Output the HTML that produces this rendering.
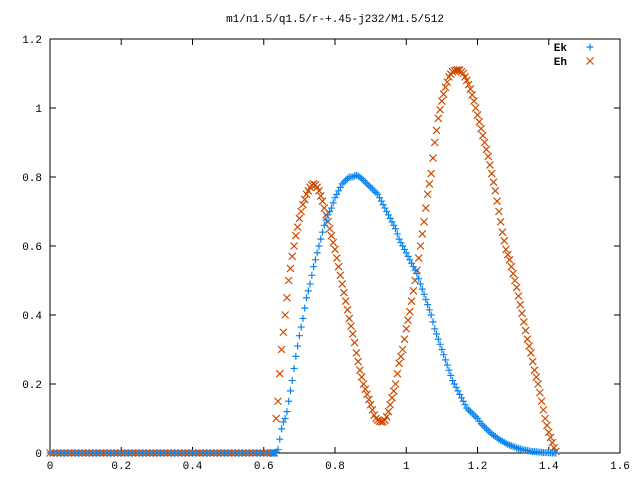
<!DOCTYPE html>
<html><head><meta charset="utf-8"><style>
body{margin:0;background:#fff}
svg{display:block}
text{font-family:"Liberation Mono",monospace;font-size:11px;fill:#000}
</style></head><body>
<svg id="chart" width="640" height="480" xmlns="http://www.w3.org/2000/svg">
<rect width="640" height="480" fill="#fff"/>
<text x="335" y="22" text-anchor="middle">m1/n1.5/q1.5/r-+.45-j232/M1.5/512</text>
<g id="axes"></g>
<g id="marks"></g>
<g>
<text x="567" y="51" text-anchor="end" font-weight="bold">Ek</text>
<text x="567" y="65" text-anchor="end" font-weight="bold">Eh</text>
</g>
</svg>
<script>
const zeroX=[0,0.01,0.02,0.03,0.04,0.05,0.06,0.07,0.08,0.09,0.1,0.11,0.12,0.13,0.14,0.15,0.16,0.17,0.18,0.19,0.2,0.21,0.22,0.23,0.24,0.25,0.26,0.27,0.28,0.29,0.3,0.31,0.32,0.33,0.34,0.35,0.36,0.37,0.38,0.39,0.4,0.41,0.42,0.43,0.44,0.45,0.46,0.47,0.48,0.49,0.5,0.51,0.52,0.53,0.54,0.55,0.56,0.57,0.58,0.59,0.6,0.61];
const zeroEk=[0,0,0,0,0,0,0,0,0,0,0,0,0,0,0,0,0,0,0,0,0,0,0,0,0,0,0,0,0,0,0,0,0,0,0,0,0,0,0,0,0,0,0,0,0,0,0,0,0,0,0,0,0,0,0,0,0,0,0,0,0,0];
const zeroEh=[0,0,0,0,0,0,0,0,0,0,0,0,0,0,0,0,0,0,0,0,0,0,0,0,0,0,0,0,0,0,0,0,0,0,0,0,0,0,0,0,0,0,0,0,0,0,0,0,0,0,0,0,0,0,0,0,0,0,0,0,0,0];
const xs=[0.62,0.625,0.63,0.635,0.64,0.645,0.65,0.655,0.66,0.665,0.67,0.675,0.68,0.685,0.69,0.695,0.7,0.705,0.71,0.715,0.72,0.725,0.73,0.735,0.74,0.745,0.75,0.755,0.76,0.765,0.77,0.775,0.78,0.785,0.79,0.795,0.8,0.805,0.81,0.815,0.82,0.825,0.83,0.835,0.84,0.845,0.85,0.855,0.86,0.865,0.87,0.875,0.88,0.885,0.89,0.895,0.9,0.905,0.91,0.915,0.92,0.925,0.93,0.935,0.94,0.945,0.95,0.955,0.96,0.965,0.97,0.975,0.98,0.985,0.99,0.995,1,1.005,1.01,1.015,1.02,1.025,1.03,1.035,1.04,1.045,1.05,1.055,1.06,1.065,1.07,1.075,1.08,1.085,1.09,1.095,1.1,1.105,1.11,1.115,1.12,1.125,1.13,1.135,1.14,1.145,1.15,1.155,1.16,1.165,1.17,1.175,1.18,1.185,1.19,1.195,1.2,1.205,1.21,1.215,1.22,1.225,1.23,1.235,1.24,1.245,1.25,1.255,1.26,1.265,1.27,1.275,1.28,1.285,1.29,1.295,1.3,1.305,1.31,1.315,1.32,1.325,1.33,1.335,1.34,1.345,1.35,1.355,1.36,1.365,1.37,1.375,1.38,1.385,1.39,1.395,1.4,1.405,1.41,1.415,1.42];
const ek=[0,0,0,0.003,0.01,0.04,0.07,0.09,0.10,0.12,0.15,0.18,0.21,0.245,0.28,0.31,0.34,0.365,0.39,0.42,0.45,0.47,0.49,0.515,0.54,0.56,0.58,0.60,0.62,0.64,0.66,0.675,0.69,0.70,0.71,0.725,0.74,0.75,0.76,0.77,0.78,0.785,0.79,0.795,0.80,0.80,0.80,0.803,0.805,0.803,0.80,0.795,0.79,0.785,0.78,0.775,0.77,0.765,0.76,0.755,0.75,0.74,0.73,0.72,0.71,0.70,0.69,0.68,0.67,0.66,0.65,0.635,0.62,0.61,0.60,0.59,0.58,0.57,0.56,0.55,0.54,0.53,0.52,0.505,0.49,0.475,0.46,0.445,0.43,0.415,0.40,0.38,0.36,0.345,0.33,0.315,0.30,0.285,0.27,0.255,0.24,0.225,0.21,0.20,0.19,0.18,0.17,0.16,0.15,0.14,0.13,0.125,0.12,0.115,0.11,0.105,0.10,0.092,0.085,0.08,0.075,0.07,0.065,0.06,0.055,0.051,0.048,0.044,0.04,0.037,0.034,0.031,0.028,0.025,0.023,0.021,0.019,0.017,0.015,0.013,0.012,0.01,0.009,0.008,0.007,0.006,0.005,0.0045,0.004,0.0035,0.003,0.0025,0.002,0.0015,0.001,0.001,0.001,0.0005,0,0,0];
const eh=[0,0,0,0.10,0.15,0.23,0.30,0.35,0.40,0.45,0.50,0.535,0.57,0.60,0.63,0.655,0.68,0.70,0.72,0.735,0.75,0.76,0.77,0.777,0.78,0.777,0.77,0.76,0.745,0.73,0.71,0.69,0.67,0.65,0.63,0.61,0.59,0.565,0.54,0.515,0.49,0.465,0.44,0.415,0.39,0.368,0.345,0.32,0.29,0.265,0.24,0.22,0.20,0.185,0.17,0.155,0.14,0.125,0.11,0.10,0.095,0.092,0.09,0.091,0.095,0.105,0.12,0.14,0.16,0.18,0.20,0.23,0.26,0.28,0.30,0.33,0.36,0.385,0.41,0.44,0.47,0.50,0.53,0.565,0.60,0.635,0.67,0.71,0.75,0.78,0.81,0.855,0.90,0.935,0.97,0.995,1.02,1.04,1.06,1.075,1.09,1.098,1.105,1.108,1.11,1.11,1.11,1.105,1.10,1.09,1.08,1.068,1.055,1.038,1.02,1.00,0.98,0.96,0.94,0.92,0.90,0.88,0.86,0.835,0.81,0.785,0.76,0.73,0.70,0.67,0.64,0.615,0.59,0.575,0.56,0.54,0.52,0.50,0.48,0.455,0.43,0.405,0.38,0.355,0.33,0.31,0.29,0.265,0.24,0.22,0.20,0.175,0.15,0.125,0.10,0.08,0.06,0.045,0.03,0.015,0.005];
const xTicks=["0","0.2","0.4","0.6","0.8","1","1.2","1.4","1.6"];
const yTicks=["0","0.2","0.4","0.6","0.8","1","1.2"];
const NS="http://www.w3.org/2000/svg";
const L=50,R=620,T=39,B=453;
const sx=v=>L+(v-0)/1.6*(R-L);
const sy=v=>B-(v-0)/1.2*(B-T);
const axes=document.getElementById('axes'),marks=document.getElementById('marks');
function mk(tag,attrs,parent){const e=document.createElementNS(NS,tag);for(const k in attrs)e.setAttribute(k,attrs[k]);parent.appendChild(e);return e;}
const frame=mk('rect',{x:L,y:T,width:R-L,height:B-T,fill:'none',stroke:'#000','stroke-width':1},axes);


xTicks.forEach(t=>{const v=parseFloat(t),X=sx(v);
 const l=mk('path',{d:`M${X} ${B}v-6M${X} ${T}v6`,stroke:'#000'},axes);
 
 
 const tx=mk('text',{x:X,y:B+16,'text-anchor':'middle'},axes);tx.textContent=t;
 
 
});
yTicks.forEach(t=>{const v=parseFloat(t),Y=sy(v);
 const l=mk('path',{d:`M${L} ${Y}h6M${R} ${Y}h-6`,stroke:'#000'},axes);
 
 
 const tx=mk('text',{x:L-8,y:Y+4,'text-anchor':'end'},axes);tx.textContent=t;
 
 
});
const s=3.5;
const BLUE='#0a84f0',ORANGE='#cc4a00';
function plus(X,Y,c,g){return mk('path',{d:`M${X-s} ${Y}h${2*s}M${X} ${Y-s}v${2*s}`,stroke:c,'stroke-width':1.2},g);}
function cross(X,Y,c,g){return mk('path',{d:`M${X-s} ${Y-s}l${2*s} ${2*s}M${X-s} ${Y+s}l${2*s} ${-2*s}`,stroke:c,'stroke-width':1.2},g);}
const gEh=mk('g',{},marks);


const gEk=mk('g',{},marks);


function drawSeries(X,K,H){
 X.forEach((x,i)=>{
  const a=cross(sx(x),sy(H[i]),ORANGE,gEh);
  
  
 });
 X.forEach((x,i)=>{
  const b=plus(sx(x),sy(K[i]),BLUE,gEk);
  
  
 });
}
drawSeries(zeroX,zeroEk,zeroEh);
drawSeries(xs,ek,eh);
const le=plus(590,47,BLUE,marks);


const lh=cross(590,61,ORANGE,marks);


</script>
</body></html>
